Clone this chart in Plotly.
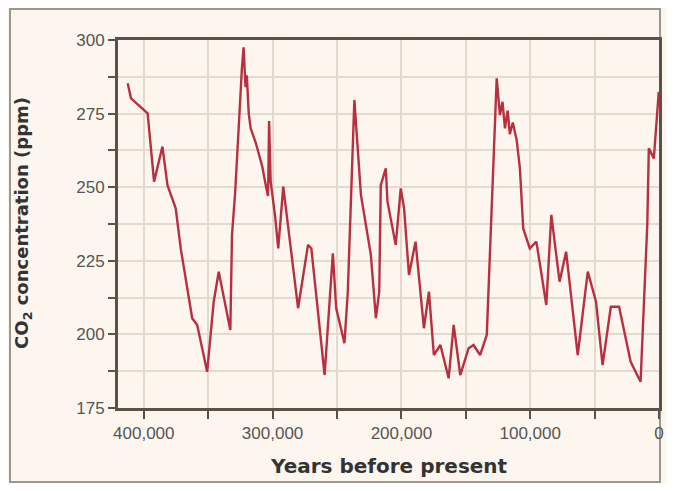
import plotly.graph_objects as go

# Jahre vor heute und CO2-Werte (ppm)
years = [412500, 409900, 397000, 392000, 385500, 381600, 375200, 371300, 362400, 358500,
         350800, 345700, 341800, 332800, 331500, 329000, 323800, 322500, 321000, 320000,
         318500, 317000, 313000, 308000, 305000, 303500, 302700, 301500, 298000, 295600,
         291700, 280200, 272500, 269900, 259600, 253200, 250600, 244200, 241600, 236500,
         231400, 230100, 223700, 219800, 217200, 216000, 212100, 210800, 204400, 200500,
         197900, 194100, 189000, 182500, 178600, 174800, 169700, 163300, 159400, 154300,
         147800, 144000, 138900, 133700, 129900, 126000, 123500, 121500, 119600, 117500,
         115800, 113500, 110500, 108000, 105400, 100300, 95200, 87500, 83600, 77200,
         72100, 63100, 55300, 48900, 43800, 37400, 31000, 22000, 14300, 9100,
         7900, 4000, 200]
co2 = [285.3, 280.2, 275.1, 251.9, 263.8, 250.7, 242.8, 229.2, 205.5, 203.2,
       187.3, 211.1, 221.3, 201.5, 233.8, 248.5, 290.4, 297.5, 284.0, 288.0,
       275.0, 270.0, 265.0, 257.0, 250.0, 247.0, 272.5, 252.0, 240.0, 229.2,
       250.2, 208.9, 230.4, 229.2, 186.2, 227.5, 208.9, 197.0, 214.5, 279.6,
       247.4, 244.0, 227.0, 205.5, 214.5, 250.7, 256.4, 245.1, 230.4, 249.6,
       242.8, 220.2, 231.5, 202.1, 214.5, 193.0, 196.4, 185.1, 203.2, 186.2,
       195.3, 196.4, 193.0, 199.8, 245.1, 287.0, 274.5, 279.0, 270.0, 276.0,
       268.0, 272.0, 266.0, 256.4, 236.0, 229.2, 231.5, 210.0, 240.6, 217.9,
       228.1, 193.0, 221.3, 211.1, 189.6, 209.4, 209.4, 190.7, 183.9, 237.2,
       263.2, 259.8, 282.4]

x_tickvals = [400000, 300000, 200000, 100000, 0]
x_ticktext = ["400,000", "300,000", "200,000", "100,000", "0"]
y_tickvals = [175, 200, 225, 250, 275, 300]

bg = "#fdf6ee"
grid = "#e2d9cf"
axis_col = "#5a5248"

fig = go.Figure()
fig.add_trace(go.Scatter(x=years, y=co2, mode="lines",
                         line=dict(color="#b83040", width=2.4),
                         showlegend=False))

# die Seite hat 8px Rand -> 659x475, Plotbereich im Fenster bei 118..664 / 40..408
fig.update_layout(
    width=659, height=475,
    margin=dict(l=110, r=3, t=32, b=75),
    paper_bgcolor=bg, plot_bgcolor=bg,
    font=dict(family="Liberation Sans, Arial, sans-serif", color="#555555", size=17),
)

fig.update_xaxes(
    range=[420000, 0], tickvals=x_tickvals, ticktext=x_ticktext,
    ticks="outside", ticklen=8, tickwidth=2, tickcolor=axis_col,
    showgrid=True, gridcolor=grid, gridwidth=2,
    minor=dict(dtick=50000, tick0=0, ticks="outside", ticklen=8, tickwidth=2,
               tickcolor=axis_col, showgrid=True, gridcolor=grid, gridwidth=2),
    showline=True, linecolor=axis_col, linewidth=3, mirror=True,
    zeroline=False,
)
fig.update_yaxes(
    range=[175, 300], tickvals=y_tickvals,
    ticks="outside", ticklen=7, tickwidth=2, tickcolor=axis_col,
    showgrid=True, gridcolor=grid, gridwidth=2,
    minor=dict(dtick=12.5, tick0=175, ticks="outside", ticklen=7, tickwidth=2,
               tickcolor=axis_col, showgrid=True, gridcolor=grid, gridwidth=2),
    showline=True, linecolor=axis_col, linewidth=3, mirror=True,
    zeroline=False,
)

# Achsentitel als Annotationen
title_font = "DejaVu Sans, Verdana, sans-serif"
fig.add_annotation(text="<b>Years before present</b>", xref="paper", yref="paper",
                   x=(391 - 118) / 546, y=-(466 - 408) / 368, showarrow=False,
                   font=dict(family=title_font, size=20, color="#333333"),
                   xanchor="center", yanchor="middle")
fig.add_annotation(text="<b>CO<sub>2</sub> concentration (ppm)</b>", xref="paper", yref="paper",
                   x=-(118 - 22) / 546, y=(408 - 223) / 368, showarrow=False, textangle=-90,
                   font=dict(family=title_font, size=18, color="#333333"),
                   xanchor="center", yanchor="middle")

# Rahmen um das ganze Bild
fig.add_shape(type="rect", xref="paper", yref="paper",
              x0=-(110 - 1) / 546, x1=(657 - 110) / 546,
              y0=-(474 - 400) / 368, y1=(400 - 1) / 368,
              line=dict(color="#9a9690", width=2), layer="below")

fig.write_html("out.html")
